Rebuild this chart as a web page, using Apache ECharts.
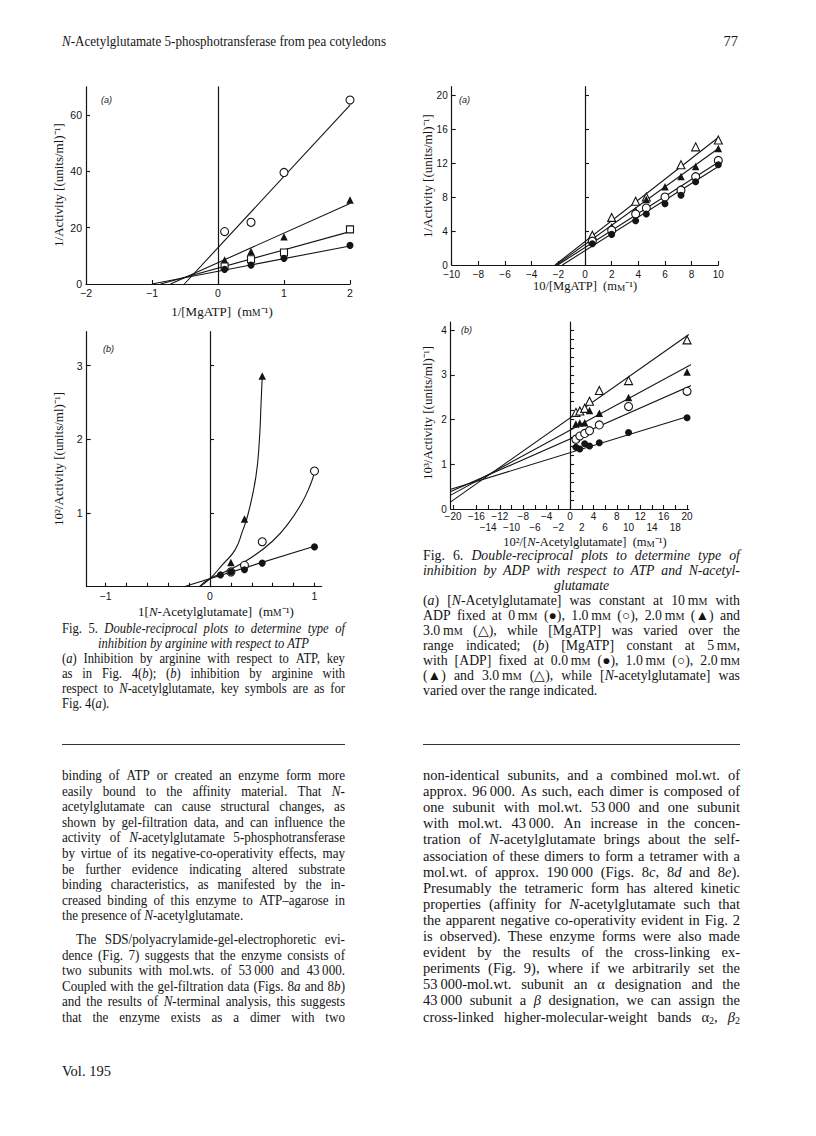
<!DOCTYPE html>
<html><head><meta charset="utf-8">
<script src="https://cdn.jsdelivr.net/npm/echarts@6/dist/echarts.min.js"></script>
<style>
html,body{margin:0;padding:0;background:#fff;}
#page{position:relative;width:816px;height:1136px;overflow:hidden;font-family:"Liberation Serif","Times New Roman",serif;color:#141414;background:#fff;}
#chart{position:absolute;left:0;top:0;width:816px;height:640px;}
.ln{position:absolute;white-space:nowrap;transform-origin:0 0;}
.j{display:flex;justify-content:space-between;}
.c{text-align:center;}
small{font-size:inherit;font-variant:small-caps;}
sub{font-size:70%;vertical-align:-2px;line-height:0;}
.rule{position:absolute;height:0;border-top:1px solid #333;}
</style></head>
<body><div id="page"><div id="chart"></div></div>
<script>
// ---------------- DATA ----------------
// Fig 5(a): 1/Activity vs 1/[MgATP]
const fig5aX = [0.1, 0.5, 1, 2];
const fig5aOpenCircles = [18.6, 21.9, 39.6, 65.3];
const fig5aFilledTriangles = [8.5, 11.5, 16.8, 29.8];
const fig5aOpenSquares = [6.2, 8.8, 11.2, 19.4];
const fig5aFilledCircles = [5.2, 6.7, 9.1, 13.7];
const fig5aFitOpenCircles = [[-0.51, 0], [2, 63.5]];
const fig5aFitFilledTriangles = [[-0.72, 0], [2, 28.6]];
const fig5aFitOpenSquares = [[-0.87, 0], [2, 18.6]];
const fig5aFitFilledCircles = [[-1.0, 0], [2, 13.5]];
const fig5aXTicks = [-2, -1, 0, 1, 2];
const fig5aYLabels = [0, 20, 40, 60];
const fig5aYTicks = [20, 40, 60];

// Fig 5(b): 10^2/Activity vs 1/[N-Acetylglutamate]
const fig5bX = [0.1, 0.2, 0.33, 0.5, 1];
const fig5bFilledCircles = [0.16, 0.2, 0.23, 0.32, 0.54];
const fig5bOpenCircles = [null, 0.2, 0.29, 0.61, 1.57];
const fig5bFilledTriangles = [null, 0.33, 0.92, 2.86, null];
const fig5bFitFilledCircles = [[-0.25, 0], [1, 0.55]];
const fig5bCurveOpenCircles = [[-0.1, 0], [0, 0.11], [0.2, 0.24], [0.4, 0.4], [0.6, 0.62], [0.75, 0.86], [0.88, 1.14], [0.96, 1.38], [1.0, 1.55]];
const fig5bCurveFilledTriangles = [[-0.1, 0], [0, 0.11], [0.12, 0.3], [0.24, 0.5], [0.31, 0.75], [0.367, 1.0], [0.44, 1.5], [0.473, 2.0], [0.489, 2.5], [0.5, 2.85]];
const fig5bXTicks = [-1, -0.8, -0.6, -0.4, -0.2, 0, 0.2, 0.4, 0.6, 0.8, 1];
const fig5bXLabels = [-1, 0, 1];
const fig5bYLabels = [1, 2, 3];

// Fig 6(a): 1/Activity vs 10/[MgATP]
const fig6aX = [0.55, 2.0, 3.8, 4.6, 6.0, 7.2, 8.3, 10.0];
const fig6aOpenTriangles = [3.5, 5.6, 7.5, 8.0, null, 11.8, 13.9, 14.7];
const fig6aFilledTriangles = [null, 4.5, 6.4, 7.7, 9.2, 10.4, 11.6, 13.7];
const fig6aOpenCircles = [2.8, 4.1, 6.0, 6.7, 8.0, 8.8, 10.4, 12.3];
const fig6aFilledCircles = [2.5, 3.6, 5.2, 6.0, 7.2, 8.2, 9.8, 11.8];
const fig6aFitOpenTriangles = [[-2.25, 0], [10, 15.0]];
const fig6aFitFilledTriangles = [[-2.15, 0], [10, 13.7]];
const fig6aFitOpenCircles = [[-2.05, 0], [10, 12.1]];
const fig6aFitFilledCircles = [[-1.7, 0], [10, 11.6]];
const fig6aXTicks = [-10, -8, -6, -4, -2, 0, 2, 4, 6, 8, 10];
const fig6aYLabels = [0, 4, 8, 12, 16, 20];
const fig6aYTicks = [4, 8, 12, 16, 20];

// Fig 6(b): 10^3/Activity vs 10^2/[N-Acetylglutamate]
const fig6bX = [1, 1.67, 2.5, 3.33, 5, 10, 20];
const fig6bOpenTriangles = [2.16, 2.19, 2.25, 2.41, 2.65, 2.87, 3.78];
const fig6bFilledTriangles = [1.9, 1.92, 1.93, 2.2, 2.14, 2.49, 3.06];
const fig6bOpenCircles = [1.56, 1.63, 1.69, 1.75, 1.88, 2.29, 2.63];
const fig6bFilledCircles = [1.38, 1.34, 1.46, 1.41, 1.48, 1.71, 2.04];
const fig6bFitOpenTriangles = [[-20.4, 0.16], [20.3, 3.9]];
const fig6bFitFilledTriangles = [[-20.4, 0.31], [21.1, 3.26]];
const fig6bFitOpenCircles = [[-20.4, 0.39], [20.7, 2.76]];
const fig6bFitFilledCircles = [[-20.4, 0.44], [20, 2.06]];
const fig6bXTicks = [-20, -18, -16, -14, -12, -10, -8, -6, -4, -2, 0, 2, 4, 6, 8, 10, 12, 14, 16, 18, 20];
const fig6bYLabels = [0, 1, 2, 3, 4];
const fig6bYTicks = [1, 2, 3, 4];
const fig6bZeroAxisTicks = [0.2, 0.4, 0.6, 0.8, 1, 1.2, 1.4, 1.6, 1.8, 2, 2.2, 2.4, 2.6, 2.8, 3, 3.2, 3.4, 3.6, 3.8, 4];

// ---------------- CHART ----------------
const INK = '#141414';
function fmt(v) { const s = String(Math.round(Math.abs(v) * 100) / 100); return v < 0 ? '\u2212' + s : s; }
function fmt6b(v) { return (Math.abs(Math.round(v)) % 4 === 2) ? '\n' + fmt(v) : fmt(v); }

const grids = [
  { left: 86, top: 86.8, width: 264, height: 197.2 },
  { left: 86.7, top: 331.7, width: 235, height: 255 },
  { left: 451.7, top: 86.7, width: 266.6, height: 178.3 },
  { left: 450.7, top: 322, width: 238, height: 187 }
];
const ranges = [
  { xmin: -2, xmax: 2, ymax: 70 },
  { xmin: -1.18, xmax: 1.069, ymax: 3.46 },
  { xmin: -10, xmax: 10, ymax: 20.98 },
  { xmin: -20.4, xmax: 20.28, ymax: 4.18 }
];
const tickFont = [10.5, 10.5, 10, 10];

function xAxisCfg(g, ticks, labels, formatter, lineHeight, margin) {
  const r = ranges[g];
  return {
    gridIndex: g, type: 'value', min: r.xmin, max: r.xmax, position: 'bottom',
    axisLine: { show: true, onZero: false, lineStyle: { color: INK, width: 1.2 } },
    axisTick: { show: true, inside: true, length: 4, customValues: ticks, lineStyle: { color: INK, width: 1.1 } },
    axisLabel: { show: true, customValues: labels, formatter: formatter || fmt, fontFamily: 'Liberation Sans', fontSize: tickFont[g], color: INK, margin: margin == null ? 3 : margin, lineHeight: lineHeight || 12, showMinLabel: true, showMaxLabel: true, hideOverlap: false },
    splitLine: { show: false }
  };
}
function yLeftCfg(g, ticks, labels) {
  const r = ranges[g];
  return {
    gridIndex: g, type: 'value', min: 0, max: r.ymax, position: 'left',
    axisLine: { show: true, onZero: false, lineStyle: { color: INK, width: 1.2 } },
    axisTick: { show: true, inside: true, length: 4, customValues: ticks, lineStyle: { color: INK, width: 1.1 } },
    axisLabel: { show: true, customValues: labels, formatter: fmt, fontFamily: 'Liberation Sans', fontSize: tickFont[g], color: INK, margin: 4, showMinLabel: true, showMaxLabel: true, hideOverlap: false },
    splitLine: { show: false }
  };
}
function yZeroCfg(g, ticks) {
  const r = ranges[g];
  return {
    gridIndex: g, type: 'value', min: 0, max: r.ymax, position: 'left',
    axisLine: { show: true, onZero: true, lineStyle: { color: INK, width: 1.2 } },
    axisTick: ticks ? { show: true, inside: true, length: 4, customValues: ticks, lineStyle: { color: INK, width: 1.1 } } : { show: false },
    axisLabel: { show: false },
    splitLine: { show: false }
  };
}

const MARKS = {
  filledCircle: { symbol: 'circle', size: 7, fill: INK },
  openCircle: { symbol: 'circle', size: 8, fill: '#fff' },
  filledTriangle: { symbol: 'triangle', size: 7.5, fill: INK },
  openTriangle: { symbol: 'triangle', size: 8, fill: '#fff' },
  openSquare: { symbol: 'rect', size: 7, fill: '#fff' }
};
function pairs(xs, ys) { const out = []; xs.forEach((x, i) => { if (ys[i] != null) out.push([x, ys[i]]); }); return out; }
function scat(g, xs, ys, kind) {
  const m = MARKS[kind];
  return {
    type: 'scatter', xAxisIndex: g, yAxisIndex: 2 * g, data: pairs(xs, ys), symbol: m.symbol, symbolSize: m.size, z: 5,
    itemStyle: { color: m.fill, borderColor: INK, borderWidth: m.fill === '#fff' ? 1.1 : 0, opacity: 1 }, silent: true
  };
}
function fit(g, pts, smooth) {
  return {
    type: 'line', xAxisIndex: g, yAxisIndex: 2 * g, data: pts, showSymbol: false, symbol: 'none', clip: false,
    smooth: smooth || false, z: 3,
    lineStyle: { color: INK, width: 1.1 }, silent: true
  };
}

const SERIF = 'Liberation Serif';
function richFor(size) {
  return {
    sc: { fontFamily: SERIF, fontSize: size * 0.74, fill: INK, verticalAlign: 'bottom' },
    i: { fontFamily: SERIF, fontSize: size, fontStyle: 'italic', fill: INK }
  };
}
function gtext(x, y, text, rot, size) {
  const s = size || 13;
  return {
    type: 'text', x: x, y: y, rotation: rot ? Math.PI / 2 : 0, silent: true,
    style: { text: text, fontFamily: SERIF, fontSize: s, fill: INK, align: 'center', verticalAlign: 'middle', rich: richFor(s) }
  };
}
function panelTag(x, y, letter) {
  return { type: 'text', x: x, y: y, silent: true,
    style: { text: '(' + letter + ')', fontFamily: 'Liberation Sans', fontSize: 9, fontStyle: 'italic', fill: INK, align: 'left', verticalAlign: 'middle' } };
}

const option = {
  backgroundColor: 'transparent',
  animation: false,
  grid: grids.map(g => Object.assign({ containLabel: false, outerBoundsMode: 'none' }, g)),
  xAxis: [
    xAxisCfg(0, fig5aXTicks, fig5aXTicks),
    xAxisCfg(1, fig5bXTicks, fig5bXLabels),
    xAxisCfg(2, fig6aXTicks, fig6aXTicks),
    xAxisCfg(3, fig6bXTicks, fig6bXTicks, fmt6b, 11, 1.5)
  ],
  yAxis: [
    yLeftCfg(0, fig5aYTicks, fig5aYLabels), yZeroCfg(0, null),
    yLeftCfg(1, fig5bYLabels, fig5bYLabels), yZeroCfg(1, fig5bYLabels),
    yLeftCfg(2, fig6aYTicks, fig6aYLabels), yZeroCfg(2, fig6aYTicks),
    yLeftCfg(3, fig6bYTicks, fig6bYLabels), yZeroCfg(3, fig6bZeroAxisTicks)
  ],
  series: [
    fit(0, fig5aFitOpenCircles), fit(0, fig5aFitFilledTriangles), fit(0, fig5aFitOpenSquares), fit(0, fig5aFitFilledCircles),
    scat(0, fig5aX, fig5aOpenCircles, 'openCircle'), scat(0, fig5aX, fig5aFilledTriangles, 'filledTriangle'),
    scat(0, fig5aX, fig5aOpenSquares, 'openSquare'), scat(0, fig5aX, fig5aFilledCircles, 'filledCircle'),

    fit(1, fig5bFitFilledCircles), fit(1, fig5bCurveOpenCircles, 0.5), fit(1, fig5bCurveFilledTriangles, 0.5),
    scat(1, fig5bX, fig5bOpenCircles, 'openCircle'), scat(1, fig5bX, fig5bFilledTriangles, 'filledTriangle'),
    scat(1, fig5bX, fig5bFilledCircles, 'filledCircle'),

    fit(2, fig6aFitOpenTriangles), fit(2, fig6aFitFilledTriangles), fit(2, fig6aFitOpenCircles), fit(2, fig6aFitFilledCircles),
    scat(2, fig6aX, fig6aOpenTriangles, 'openTriangle'), scat(2, fig6aX, fig6aFilledTriangles, 'filledTriangle'),
    scat(2, fig6aX, fig6aOpenCircles, 'openCircle'), scat(2, fig6aX, fig6aFilledCircles, 'filledCircle'),

    fit(3, fig6bFitOpenTriangles), fit(3, fig6bFitFilledTriangles), fit(3, fig6bFitOpenCircles), fit(3, fig6bFitFilledCircles),
    scat(3, fig6bX, fig6bOpenTriangles, 'openTriangle'), scat(3, fig6bX, fig6bFilledTriangles, 'filledTriangle'),
    scat(3, fig6bX, fig6bOpenCircles, 'openCircle'), scat(3, fig6bX, fig6bFilledCircles, 'filledCircle')
  ],
  graphic: [
    gtext(58, 185, '1/Activity [(units/ml)\u207B\u00B9]', true),
    gtext(222, 311, '1/[MgATP]  (m{sc|M}\u207B\u00B9)'),
    panelTag(101, 100, 'a'),
    gtext(58, 459, '10\u00B2/Activity [(units/ml)\u207B\u00B9]', true),
    gtext(216, 611, '1[{i|N}-Acetylglutamate]  (m{sc|M}\u207B\u00B9)'),
    panelTag(103, 349, 'b'),
    gtext(427, 176, '1/Activity [(units/ml)\u207B\u00B9]', true),
    gtext(585, 286, '10/[MgATP]  (m{sc|M}\u207B\u00B9)', false, 12.5),
    panelTag(459, 100, 'a'),
    gtext(427, 413, '10\u00B3/Activity [(units/ml)\u207B\u00B9]', true),
    gtext(585, 542, '10\u00B2/[{i|N}-Acetylglutamate]  (m{sc|M}\u207B\u00B9)', false, 12.5),
    panelTag(461, 330, 'b')
  ]
};
const chart = echarts.init(document.getElementById('chart'), null, { renderer: 'svg', width: 816, height: 640 });
chart.setOption(option);

// ---------------- TEXT ----------------
const page = document.getElementById('page');
function addLine(x, w, yc, html, mode, size, lh, sx) {
  const s = sx || 1;
  const d = document.createElement('div');
  d.className = 'ln' + (mode === 'j' ? ' j' : mode === 'c' ? ' c' : '');
  d.style.left = x + 'px'; d.style.width = (w / s) + 'px';
  d.style.fontSize = size + 'px'; d.style.lineHeight = lh + 'px';
  d.style.top = (yc - lh / 2) + 'px';
  if (s !== 1) d.style.transform = 'scaleX(' + s + ')';
  if (mode === 'j') d.innerHTML = html.split(' ').map(t => '<span>' + t + '</span>').join('');
  else d.innerHTML = html;
  page.appendChild(d);
}
function addRule(x, w, y) { const r = document.createElement('div'); r.className = 'rule'; r.style.left = x + 'px'; r.style.width = w + 'px'; r.style.top = y + 'px'; page.appendChild(r); }

const LEFT_SX = 0.9;
// header & footer
addLine(62, 400, 41, '<i>N</i>-Acetylglutamate 5-phosphotransferase from pea cotyledons', 'l', 14.5, 17, LEFT_SX);
addLine(700, 38, 41, '<div style="text-align:right">77</div>', 'l', 14.5, 17);
addLine(62, 200, 1071, 'Vol. 195', 'l', 14.5, 17);

// Fig. 5 caption
const cap5 = [
  ['Fig. 5. <i>Double-reciprocal</i> <i>plots</i> <i>to</i> <i>determine</i> <i>type</i> <i>of</i>', 'j'],
  ['<i>inhibition by arginine with respect to ATP</i>', 'c'],
  ['(<i>a</i>) Inhibition by arginine with respect to ATP, key', 'j'],
  ['as in Fig. 4(<i>b</i>); (<i>b</i>) inhibition by arginine with', 'j'],
  ['respect to <i>N</i>-acetylglutamate, key symbols are as for', 'j'],
  ['Fig. 4(<i>a</i>).', 'l']
];
cap5.forEach((l, i) => addLine(62, 283, 628 + i * 15, l[0], l[1], 14, 15, LEFT_SX));

// Fig. 6 caption
const cap6 = [
  ['Fig. 6. <i>Double-reciprocal</i> <i>plots</i> <i>to</i> <i>determine</i> <i>type</i> <i>of</i>', 'j'],
  ['<i>inhibition</i> <i>by</i> <i>ADP</i> <i>with</i> <i>respect</i> <i>to</i> <i>ATP</i> <i>and</i> <i>N-acetyl-</i>', 'j'],
  ['<i>glutamate</i>', 'c'],
  ['(<i>a</i>) [<i>N</i>-Acetylglutamate] was constant at 10\u2009m<small>m</small> with', 'j'],
  ['ADP fixed at 0\u2009m<small>m</small> (\u25CF), 1.0\u2009m<small>m</small> (\u25CB), 2.0\u2009m<small>m</small> (\u25B2) and', 'j'],
  ['3.0\u2009m<small>m</small> (\u25B3), while [MgATP] was varied over the', 'j'],
  ['range indicated; (<i>b</i>) [MgATP] constant at 5\u2009m<small>m</small>,', 'j'],
  ['with [ADP] fixed at 0.0\u2009m<small>m</small> (\u25CF), 1.0\u2009m<small>m</small> (\u25CB), 2.0\u2009m<small>m</small>', 'j'],
  ['(\u25B2) and 3.0\u2009m<small>m</small> (\u25B3), while [<i>N</i>-acetylglutamate] was', 'j'],
  ['varied over the range indicated.', 'l']
];
cap6.forEach((l, i) => addLine(423, 317, 555 + i * 15, l[0], l[1], 13.8, 15));

addRule(62, 283, 744);
addRule(423, 317, 744);

// body text
const leftCol = [
  ['binding of ATP or created an enzyme form more', 'j'],
  ['easily bound to the affinity material. That <i>N</i>-', 'j'],
  ['acetylglutamate can cause structural changes, as', 'j'],
  ['shown by gel-filtration data, and can influence the', 'j'],
  ['activity of <i>N</i>-acetylglutamate 5-phosphotransferase', 'j'],
  ['by virtue of its negative-co-operativity effects, may', 'j'],
  ['be further evidence indicating altered substrate', 'j'],
  ['binding characteristics, as manifested by the in-', 'j'],
  ['creased binding of this enzyme to ATP\u2013agarose in', 'j'],
  ['the presence of <i>N</i>-acetylglutamate.', 'l'],
  ['The SDS/polyacrylamide-gel-electrophoretic evi-', 'ji'],
  ['dence (Fig. 7) suggests that the enzyme consists of', 'j'],
  ['two subunits with mol.wts. of 53\u2009000 and 43\u2009000.', 'j'],
  ['Coupled with the gel-filtration data (Figs. 8<i>a</i> and 8<i>b</i>)', 'j'],
  ['and the results of <i>N</i>-terminal analysis, this suggests', 'j'],
  ['that the enzyme exists as a dimer with two', 'j']
];
leftCol.forEach((l, i) => {
  const y = 775 + i * 15.6 + (i >= 10 ? 8 : 0);
  if (l[1] === 'ji') addLine(76, 269, y, l[0], 'j', 14.5, 16, LEFT_SX);
  else addLine(62, 283, y, l[0], l[1], 14.5, 16, LEFT_SX);
});
const rightCol = [
  'non-identical subunits, and a combined mol.wt. of',
  'approx. 96\u2009000. As such, each dimer is composed of',
  'one subunit with mol.wt. 53\u2009000 and one subunit',
  'with mol.wt. 43\u2009000. An increase in the concen-',
  'tration of <i>N</i>-acetylglutamate brings about the self-',
  'association of these dimers to form a tetramer with a',
  'mol.wt. of approx. 190\u2009000 (Figs. 8<i>c</i>, 8<i>d</i> and 8<i>e</i>).',
  'Presumably the tetrameric form has altered kinetic',
  'properties (affinity for <i>N</i>-acetylglutamate such that',
  'the apparent negative co-operativity evident in Fig. 2',
  'is observed). These enzyme forms were also made',
  'evident by the results of the cross-linking ex-',
  'periments (Fig. 9), where if we arbitrarily set the',
  '53\u2009000-mol.wt. subunit an \u03B1 designation and the',
  '43\u2009000 subunit a <i>\u03B2</i> designation, we can assign the',
  'cross-linked higher-molecular-weight bands \u03B1<sub>2</sub>, <i>\u03B2</i><sub>2</sub>'
];
rightCol.forEach((l, i) => addLine(423, 317, 775 + i * 16.1, l, 'j', 14.5, 16));
</script>
</body></html>
